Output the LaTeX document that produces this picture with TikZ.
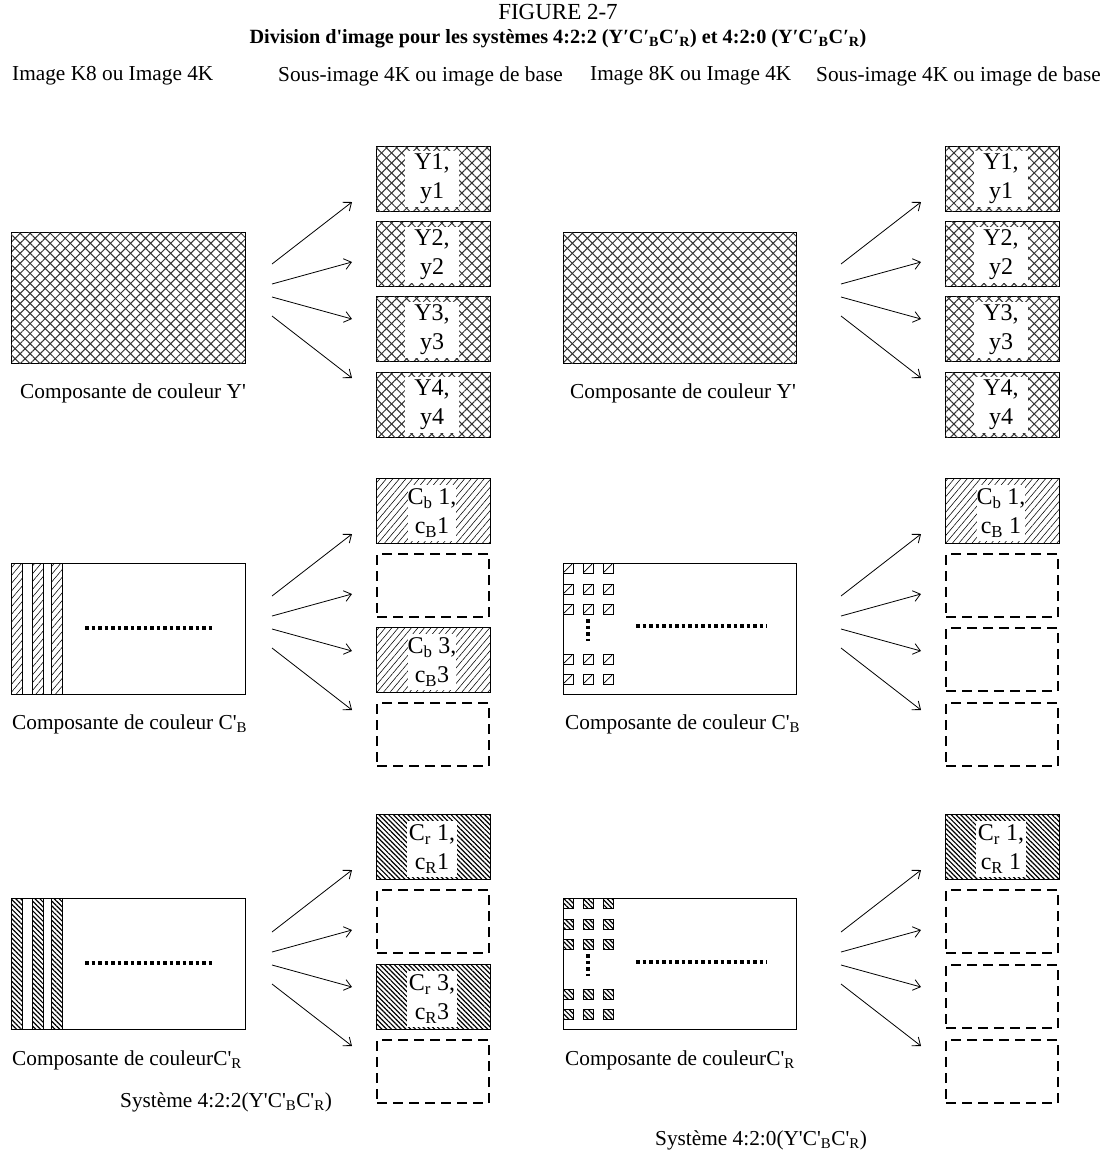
\documentclass[tikz,border=0pt]{standalone}
\usepackage{fontspec}
\newfontfamily\lib{Liberation Serif}
\usetikzlibrary{patterns.meta,arrows.meta}
\begin{document}
\begin{tikzpicture}[x=1pt,y=-1pt,
  txt/.style={font=\lib\fontsize{21.3}{24}\selectfont, inner sep=0pt},
  ttl/.style={font=\lib\fontsize{23}{26}\selectfont, inner sep=0pt},
  lab/.style={font=\lib\fontsize{24}{29}\selectfont, fill=white, align=center, inner sep=0pt, minimum width=54pt, minimum height=56pt},
  frame/.style={draw, line width=0.9pt, minimum width=234pt, minimum height=131pt, inner sep=0pt},
  sbox/.style={draw, line width=0.9pt, minimum width=114pt, minimum height=65pt, inner sep=0pt},
  dbox/.style={draw, line width=2.2pt, dash pattern=on 10pt off 6pt, minimum width=112pt, minimum height=63pt, inner sep=0pt},
  ypat/.style={pattern={Lines[angle=45,distance=7.1pt,line width=1pt]}, pattern color=black!80,
     postaction={pattern={Lines[angle=-45,distance=7.1pt,line width=1pt]}, pattern color=black!80}},
  bpat/.style={pattern={Lines[angle=50,distance=5pt,line width=0.55pt]}, pattern color=black},
  rpat/.style={pattern={Lines[angle=-45,distance=3.4pt,line width=1.2pt]}, pattern color=black},
  arr/.style={line width=0.8pt, -{Straight Barb[length=7pt,width=11pt]}},
  dots/.style={line width=3.4pt, dash pattern=on 3.5pt off 3pt},
]
\useasboundingbox (0,0) rectangle (1115,1157);

% titles
\node[ttl] (fig) at (558,12) {FIGURE 2-7};
\node[ttl, font=\lib\bfseries\fontsize{20.2}{24}\selectfont] (sub) at (558,39)
  {Division d'image pour les systèmes 4:2:2 (Y′C′\textsubscript{B}C′\textsubscript{R}) et 4:2:0 (Y′C′\textsubscript{B}C′\textsubscript{R})};
\node[txt, anchor=west] (h1) at (12,76) {Image K8 ou Image 4K};
\node[txt, anchor=west] (h2) at (278,76) {Sous-image 4K ou image de base};
\node[txt, anchor=west] (h3) at (590,76) {Image 8K ou Image 4K};
\node[txt, anchor=west] (h4) at (816,76) {Sous-image 4K ou image de base};

% ---------- arrows (all rows, both halves)
\foreach \T/\r in {146/y,478/b,814/r}{
  \foreach \s/\e [count=\i] in {118/56,138/116,151/173,170/232}{
    \coordinate (L\r s\i) at (272,\T+\s);
    \coordinate (L\r e\i) at (352,\T+\e);
    \draw[arr] (L\r s\i) -- (L\r e\i);
    \coordinate (R\r s\i) at (841,\T+\s);
    \coordinate (R\r e\i) at (921,\T+\e);
    \draw[arr] (R\r s\i) -- (R\r e\i);
  }
}

% ---------- Row Y'
\node[frame, ypat] (Ybig) at (128,297.5) {};
\node[frame, ypat, minimum width=233pt] (Ybig2) at (679.5,297.5) {};
\node[txt, anchor=west] (Ytxt) at (20,393) {Composante de couleur Y'};
\node[txt, anchor=west] (Ytxt2) at (570,393) {Composante de couleur Y'};
\foreach \o [count=\i] in {0,75.5,150.5,226}{
  \node[sbox, ypat] (LY\i) at (433,146+\o+32.5) {};
  \node[lab] (LYl\i) at (432,146+\o+33) {Y\i,\\y\i};
  \node[sbox, ypat] (RY\i) at (1002,146+\o+32.5) {};
  \node[lab] (RYl\i) at (1001,146+\o+33) {Y\i,\\y\i};
}

% ---------- Row C'B
\node[frame] (Bbig) at (128,628.5) {};
\foreach \x in {11,32,51}{ \draw[bpat, line width=0.8pt] (\x,563) rectangle ++(11,131); }
\draw[dots] (85,628) -- (215,628);
\node[frame, minimum width=233pt] (Bbig2) at (679.5,628.5) {};
\foreach \cx in {563,583,603}{
  \foreach \ry in {0,21,41,91,111}{
    \draw[line width=0.7pt] (\cx,563+\ry) rectangle ++(10,10);
    \draw[line width=0.7pt] (\cx+1,572+\ry) -- ++(8,-8);
  }
}
\draw[dots] (588,619) -- (588,641);
\draw[dots] (636,626) -- (767,626);
\node[txt, anchor=west] (Btxt) at (12,724) {Composante de couleur C'\textsubscript{B}};
\node[txt, anchor=west] (Btxt2) at (565,724) {Composante de couleur C'\textsubscript{B}};

\node[sbox, bpat] (LB1) at (433,510.5) {};
\node[lab, minimum width=48pt] (LBl1) at (432,513) {C\textsubscript{b} 1,\\c\textsubscript{B}1};
\node[dbox] (LB2) at (433,585.5) {};
\node[sbox, bpat] (LB3) at (433,659.5) {};
\node[lab, minimum width=48pt] (LBl3) at (432,662) {C\textsubscript{b} 3,\\c\textsubscript{B}3};
\node[dbox] (LB4) at (433,734.5) {};
\node[sbox, bpat] (RB1) at (1002,510.5) {};
\node[lab, minimum width=48pt] (RBl1) at (1001,513) {C\textsubscript{b} 1,\\c\textsubscript{B} 1};
\node[dbox] (RB2) at (1002,585.5) {};
\node[dbox] (RB3) at (1002,659.5) {};
\node[dbox] (RB4) at (1002,734.5) {};

% ---------- Row C'R
\node[frame] (Rbig) at (128,963.5) {};
\foreach \x in {11,32,51}{ \draw[rpat, line width=0.8pt] (\x,898) rectangle ++(11,131); }
\draw[dots] (85,963) -- (215,963);
\node[frame, minimum width=233pt] (Rbig2) at (679.5,963.5) {};
\foreach \cx in {563,583,603}{
  \foreach \ry in {0,21,41,91,111}{
    \draw[rpat, line width=0.7pt] (\cx,898+\ry) rectangle ++(10,10);
  }
}
\draw[dots] (588,954) -- (588,976);
\draw[dots] (636,962) -- (767,962);
\node[txt, anchor=west] (Rtxt) at (12,1060) {Composante de couleurC'\textsubscript{R}};
\node[txt, anchor=west] (Rtxt2) at (565,1060) {Composante de couleurC'\textsubscript{R}};

\node[sbox, rpat] (LR1) at (433,846.5) {};
\node[lab, minimum width=50pt] (LRl1) at (432,849) {C\textsubscript{r} 1,\\c\textsubscript{R}1};
\node[dbox] (LR2) at (433,921.5) {};
\node[sbox, rpat] (LR3) at (433,996.5) {};
\node[lab, minimum width=50pt] (LRl3) at (432,999) {C\textsubscript{r} 3,\\c\textsubscript{R}3};
\node[dbox] (LR4) at (433,1071.5) {};
\node[sbox, rpat] (RR1) at (1002,846.5) {};
\node[lab, minimum width=50pt] (RRl1) at (1001,849) {C\textsubscript{r} 1,\\c\textsubscript{R} 1};
\node[dbox] (RR2) at (1002,921.5) {};
\node[dbox] (RR3) at (1002,996.5) {};
\node[dbox] (RR4) at (1002,1071.5) {};

% ---------- bottom captions
\node[txt, anchor=west] (s1) at (120,1102) {Système 4:2:2(Y'C'\textsubscript{B}C'\textsubscript{R})};
\node[txt, anchor=west] (s2) at (655,1140) {Système 4:2:0(Y'C'\textsubscript{B}C'\textsubscript{R})};
\end{tikzpicture}
\end{document}
